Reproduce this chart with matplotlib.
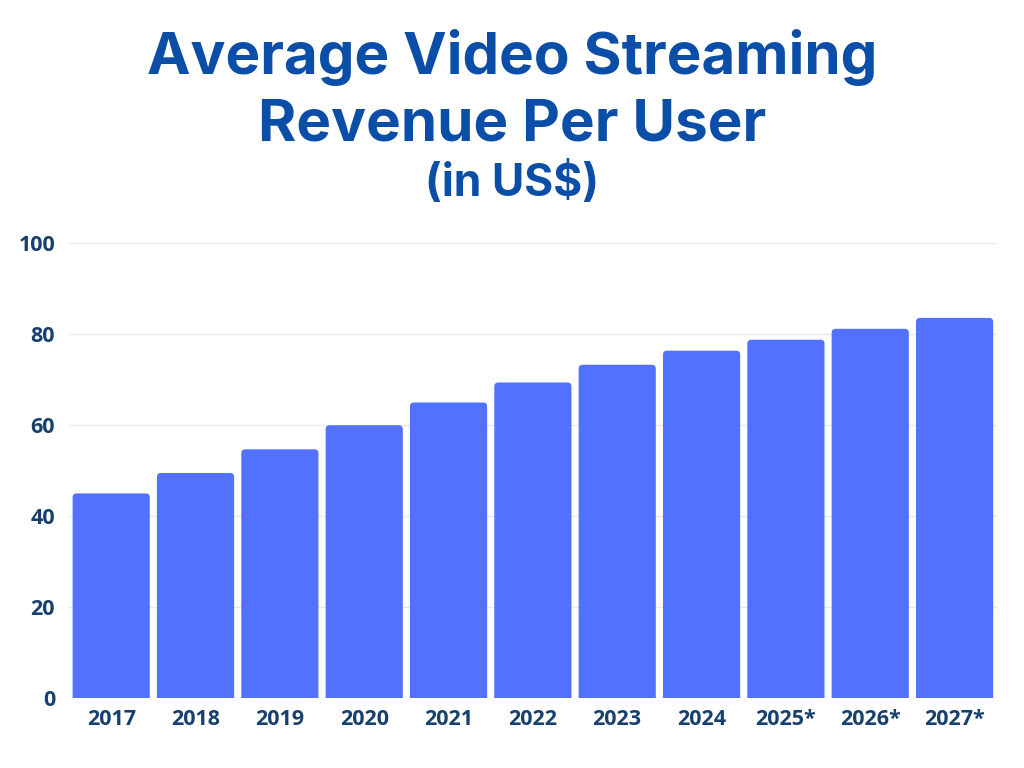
import matplotlib.pyplot as plt
from matplotlib.patches import FancyBboxPatch

years = ['2017', '2018', '2019', '2020', '2021', '2022', '2023', '2024', '2025*', '2026*', '2027*']
revenue = [45.0, 49.5, 54.7, 60.0, 65.0, 69.4, 73.3, 76.4, 78.8, 81.2, 83.6]
yticks = [0, 20, 40, 60, 80, 100]

barColor = '#5271FF'
titleColor = '#0B4EA8'
tickColor = '#17406F'

fig = plt.figure(figsize=(10.24, 7.68), dpi=100)
ax = fig.add_axes([0.0674, 0.0911, 0.906, 0.595])

bars = ax.bar(range(len(years)), revenue, width=0.915, color=barColor)
ax.set_xlim(-0.5, len(years) - 0.5)
ax.set_ylim(0, 100.5)

# swap plain bars for ones with rounded top corners
dataPerPxX = len(years) / (0.906 * 1024)
dataPerPxY = 100.5 / (0.595 * 768)
aspect = dataPerPxY / dataPerPxX
for b in bars:
    x, w, h = b.get_x(), b.get_width(), b.get_height()
    b.set_visible(False)
    r = 4 * dataPerPxX
    rv = r * aspect
    p = FancyBboxPatch((x + r, -5 + rv), w - 2 * r, h + 5 - 2 * rv,
                       boxstyle='round,pad=%f,rounding_size=%f' % (r, r),
                       mutation_aspect=aspect,
                       facecolor=barColor, edgecolor='none', zorder=2)
    ax.add_patch(p)

ax.set_yticks(yticks)
ax.set_xticks(range(len(years)))
ax.set_xticklabels(years)
ax.grid(axis='y', color='#E6E9EE', linewidth=1, zorder=0)
ax.set_axisbelow(True)
for s in ax.spines.values():
    s.set_visible(False)
ax.tick_params(axis='both', length=0, labelsize=15.5, labelcolor=tickColor)
ax.tick_params(axis='x', pad=8)
ax.tick_params(axis='y', pad=10)
for lab in ax.get_xticklabels() + ax.get_yticklabels():
    lab.set_fontfamily('Open Sans')
    lab.set_fontweight('bold')

fig.text(0.5, 0.925, 'Average Video Streaming', ha='center', va='center',
         fontsize=42, fontweight='bold', family='Inter', color=titleColor)
fig.text(0.5, 0.837, 'Revenue Per User', ha='center', va='center',
         fontsize=42, fontweight='bold', family='Inter', color=titleColor)
fig.text(0.5, 0.762, '(in US$)', ha='center', va='center',
         fontsize=32, fontweight='bold', family='Inter', color=titleColor)

plt.savefig('out.png', dpi=100)
